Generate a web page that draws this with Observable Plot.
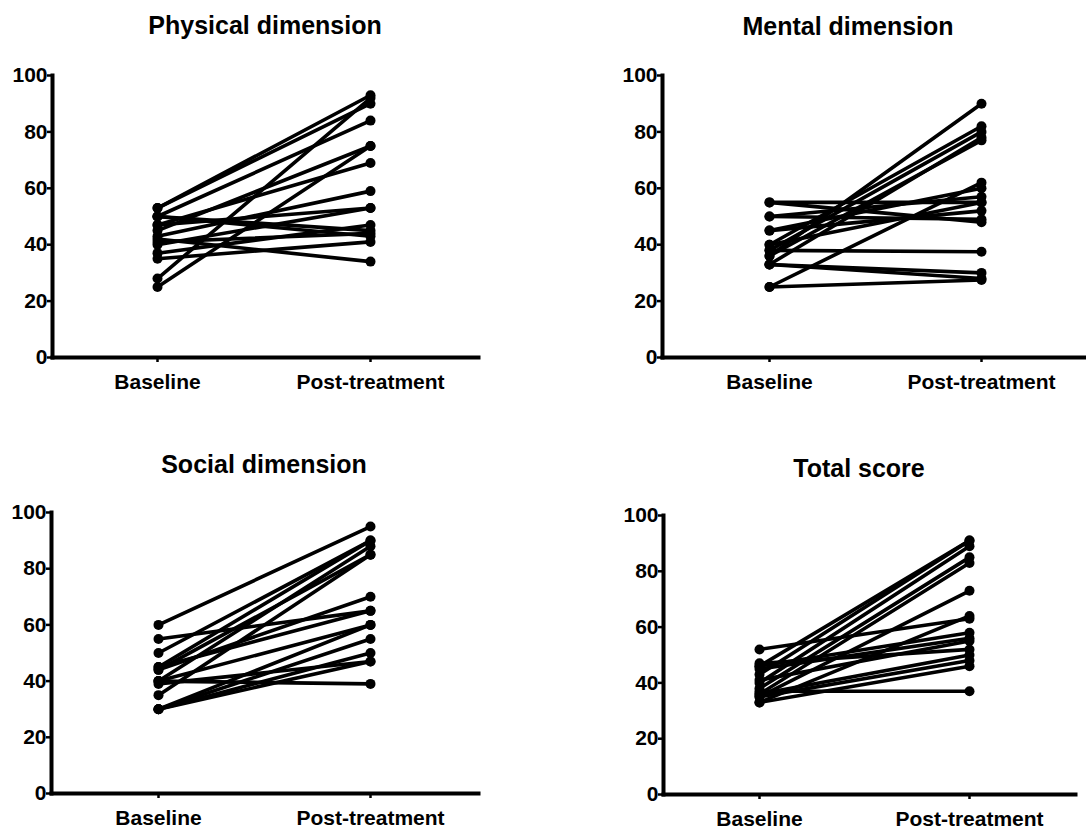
<!DOCTYPE html>
<html>
<head>
<meta charset="utf-8">
<script src="https://cdn.jsdelivr.net/npm/d3@7"></script>
<script src="https://cdn.jsdelivr.net/npm/@observablehq/plot@0.6"></script>
<style>
  html, body { margin: 0; padding: 0; background: #fff; }
  #root { position: relative; width: 1086px; height: 830px; overflow: hidden; background: #fff; }
  .title { position: absolute; width: 420px; text-align: center; font-family: "Liberation Sans", Arial, sans-serif; font-weight: bold; font-size: 25px; line-height: 25px; color: #000; white-space: nowrap; }
  .panel { position: absolute; }
</style>
</head>
<body>
<div id="root"></div>
<script>
const categories = ["Baseline", "Post-treatment"];
const yTicks = [0, 20, 40, 60, 80, 100];

const titles = ["Physical dimension", "Mental dimension", "Social dimension", "Total score"];

const physicalBaseline = [53, 53, 50, 45, 25, 28, 47, 43, 47, 40, 50, 50, 37, 35, 42, 41];
const physicalPost     = [93, 90, 84, 75, 75, 92, 69, 59, 53, 53, 45, 43, 47, 41, 34, 44];

const mentalBaseline = [36, 40, 38, 33, 36, 25, 45, 50, 55, 40, 45, 50, 55, 38, 33, 33, 25];
const mentalPost     = [90, 82, 80, 78, 77, 62, 60, 57, 55, 55, 52, 49, 48, 37.5, 30, 28, 27.5];

const socialBaseline = [60, 50, 45, 40, 35, 55, 44, 45, 40, 40, 30, 30, 30, 39, 30, 44];
const socialPost     = [95, 90, 90, 88, 85, 65, 70, 65, 60, 39, 60, 55, 50, 47, 47, 85];

const totalBaseline = [43, 40, 38, 36, 35, 52, 33, 46, 45, 47, 36, 35, 33, 37, 41, 46];
const totalPost     = [91, 89, 85, 83, 73, 63, 64, 58, 56, 52, 50, 48, 46, 37, 55, 91];

const panels = [
  {title: titles[0], base: physicalBaseline, post: physicalPost, left: 0, top: 50, width: 543, height: 370, ml: 52, mr: 65, mt: 25, mb: 63, xr: [157, 370], tx: 265, tb: 34},
  {title: titles[1], base: mentalBaseline, post: mentalPost, left: 543, top: 50, width: 543, height: 370, ml: 119, mr: 1, mt: 25, mb: 63, xr: [226, 438], tx: 848, tb: 35},
  {title: titles[2], base: socialBaseline, post: socialPost, left: 0, top: 490, width: 543, height: 340, ml: 51, mr: 65, mt: 22, mb: 37, xr: [158, 370], tx: 264, tb: 473},
  {title: titles[3], base: totalBaseline, post: totalPost, left: 543, top: 490, width: 543, height: 340, ml: 120, mr: 11, mt: 25, mb: 36, xr: [216, 426], tx: 859, tb: 477}
];

const root = document.getElementById("root");
const font = "Liberation Sans, Arial, sans-serif";

for (const p of panels) {
  const t = document.createElement("div");
  t.className = "title";
  t.textContent = p.title;
  t.style.left = (p.tx - 210) + "px";
  t.style.top = (p.tb - 21) + "px";
  root.appendChild(t);

  const subjects = p.base.map((b, i) => ({b, a: p.post[i]}));
  const pts = subjects.flatMap(s => [{x: categories[0], y: s.b}, {x: categories[1], y: s.a}]);

  const chart = Plot.plot({
    width: p.width,
    height: p.height,
    marginLeft: p.ml,
    marginRight: p.mr,
    marginTop: p.mt,
    marginBottom: p.mb,
    style: {background: "transparent", overflow: "visible"},
    x: {type: "point", domain: categories, range: p.xr, padding: 0},
    y: {domain: [0, 100]},
    marks: [
      Plot.link(subjects, {x1: () => categories[0], x2: () => categories[1], y1: "b", y2: "a", stroke: "#000", strokeWidth: 3.6, strokeLinecap: "round"}),
      Plot.dot(pts, {x: "x", y: "y", r: 5, fill: "#000", stroke: "none"}),
      Plot.frame({anchor: "left", stroke: "#000", strokeWidth: 4}),
      Plot.frame({anchor: "bottom", stroke: "#000", strokeWidth: 4}),
      Plot.axisY({ticks: yTicks, tickSize: 5, tickPadding: 0, strokeWidth: 2.5, fontSize: 21, fontWeight: "bold", fontFamily: font, fill: "#000", label: null}),
      Plot.axisX({tickSize: 5, tickPadding: 12, strokeWidth: 2.5, fontSize: 21, fontWeight: "bold", fontFamily: font, fill: "#000", label: null})
    ]
  });
  chart.classList.add("panel");
  chart.style.left = p.left + "px";
  chart.style.top = p.top + "px";
  root.appendChild(chart);
}
</script>
</body>
</html>
